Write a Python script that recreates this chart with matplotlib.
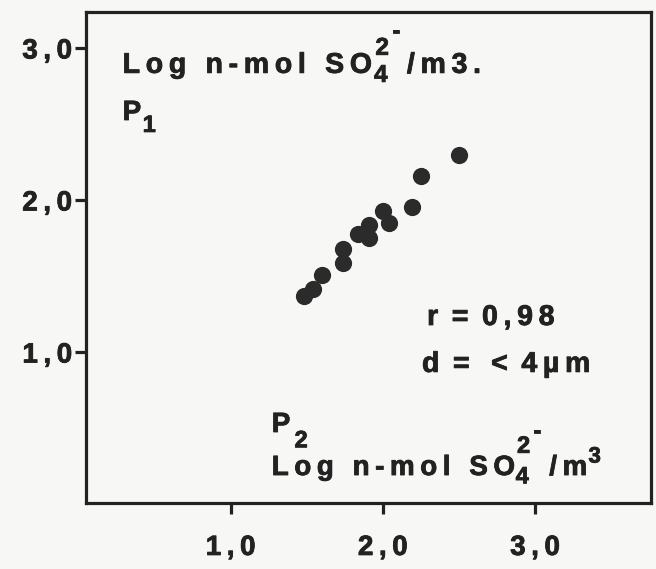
import matplotlib
matplotlib.use("Agg")
import matplotlib.pyplot as plt
import matplotlib.patheffects as pe

# valeurs (log P2, log P1)
x_p2 = [1.48, 1.54, 1.60, 1.74, 1.74, 1.84, 1.91, 1.91, 2.00, 2.04, 2.19, 2.25, 2.50]
y_p1 = [1.37, 1.42, 1.51, 1.59, 1.68, 1.78, 1.84, 1.75, 1.93, 1.85, 1.96, 2.16, 2.30]

ticks = [1.0, 2.0, 3.0]
tick_labels = ["1,0", "2,0", "3,0"]

TS = '\u2009'  # espace fine pour espacer les lettres
col = '#222222'
# trait un peu plus gras, comme l'original imprime
gras = [pe.withStroke(linewidth=0.6, foreground=col)]


def espace(s):
    # lettres espacees, mots separes par deux espaces
    return (TS + ' ' + TS).join(TS.join(w) for w in s.split(' '))


plt.rcParams['font.family'] = ['Liberation Sans', 'DejaVu Sans']
plt.rcParams['font.weight'] = 'bold'

fig = plt.figure(figsize=(6.56, 5.69), dpi=100, facecolor='#f7f7f5')
ax = fig.add_axes([0.131, 0.116, 0.861, 0.863])
ax.set_facecolor('#f7f7f5')

ax.scatter(x_p2, y_p1, s=130, color='#2b2b2b', zorder=3)

ax.set_xlim(0.05, 3.76)
ax.set_ylim(0.01, 3.24)

ax.set_xticks(ticks)
ax.set_xticklabels([espace(t) for t in tick_labels])
ax.set_yticks(ticks)
ax.set_yticklabels([espace(t) for t in tick_labels])
ax.tick_params(direction='out', length=8, width=2.3, color=col,
               labelsize=20, labelcolor=col, pad=2)
ax.tick_params(axis='x', pad=15)
for sp in ax.spines.values():
    sp.set_linewidth(2.3)
    sp.set_color(col)
for lab in ax.get_xticklabels() + ax.get_yticklabels():
    lab.set_path_effects(gras)


def suite(prev, s, dx, y, dy, size):
    # texte place a droite du precedent
    return ax.annotate(s, xy=(1, y), xycoords=(prev, ax.transAxes),
                       xytext=(dx, dy), textcoords='offset points',
                       fontsize=size, color=col, va='baseline', ha='left',
                       path_effects=gras)


def texte(x, y, s, size):
    return ax.text(x, y, s, transform=ax.transAxes, fontsize=size, color=col,
                   va='baseline', path_effects=gras)


def unite(x0, y0, size, sub, sup, moins, exp3):
    t = texte(x0, y0, espace("Log n-mol") + TS + " " + TS + espace("SO"), size)
    suite(t, "4", 1, y0, -sub, size - 3)
    t2 = suite(t, "2", 2, y0, sup, size - 3)
    tm = suite(t2, "-", 2, y0, moins, size - 3)
    if exp3:
        ts = suite(tm, TS + "/" + TS + "m", 2, y0, 0, size)
        suite(ts, "3", 1, y0, 9, size - 4)
    else:
        suite(tm, TS + "/" + TS + "m" + TS + "3" + TS + ".", 1, y0, 0, size)


unite(0.065, 0.876, 20.5, 6.5, 13, 25, False)
unite(0.329, 0.057, 20, 6, 16, 27, True)

p1 = texte(0.065, 0.780, "P", 20)
suite(p1, "1", 1, 0.780, -8.6, 17)
p2 = texte(0.329, 0.1446, "P", 20)
suite(p2, "2", 3, 0.1446, -11, 17)

texte(0.604, 0.3625, "r" + TS + " = " + TS + espace("0,98"), 20.5)
texte(0.595, 0.267, "d" + TS + " = " + TS + " < " + TS + "4" + TS + "µ" + TS + "m", 20.5)

fig.savefig("out.png", dpi=100, facecolor=fig.get_facecolor())
